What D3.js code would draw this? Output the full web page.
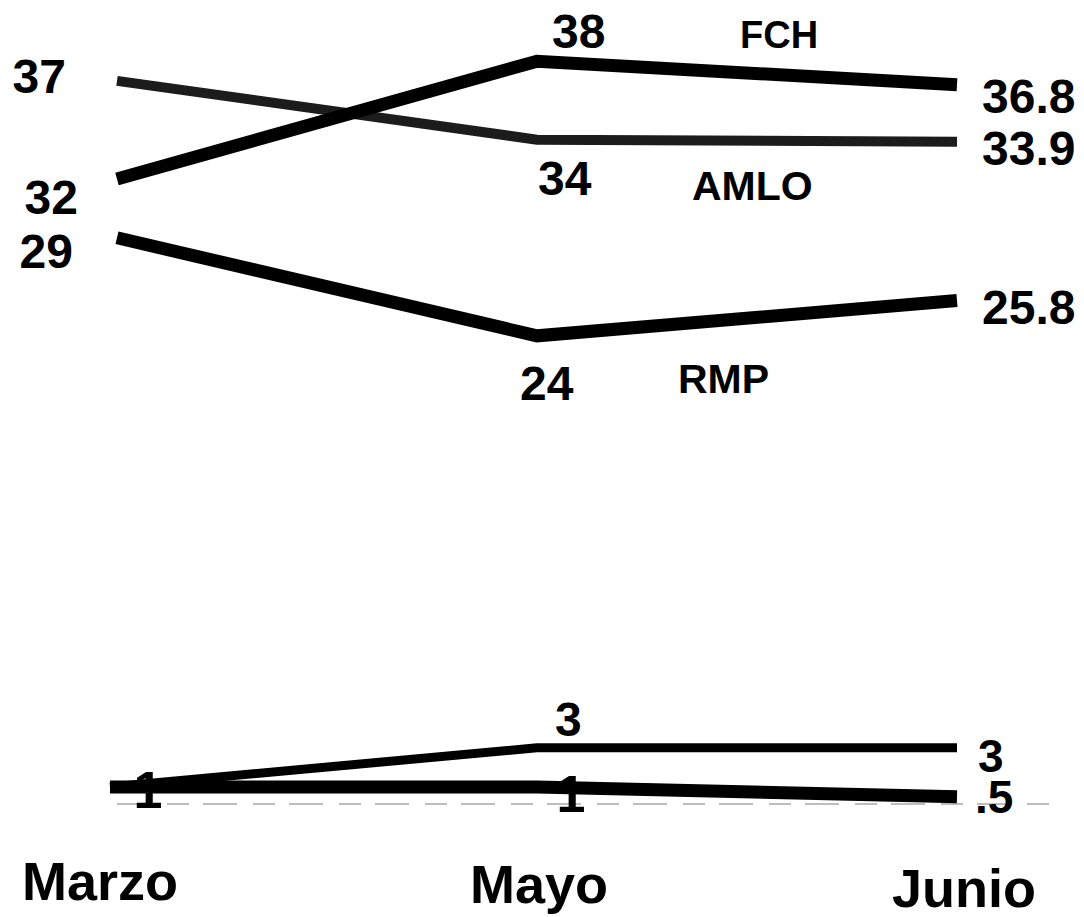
<!DOCTYPE html>
<html>
<head>
<meta charset="utf-8">
<script src="https://cdn.jsdelivr.net/npm/d3@7"></script>
<style>
  html, body { margin: 0; padding: 0; background: #fff; }
  svg text { font-family: "Liberation Sans", Arial, sans-serif; font-weight: bold; fill: #000; }
</style>
</head>
<body>
<svg id="chart" width="1084" height="917"></svg>
<script>
// ---- data ----
const months = ["Marzo", "Mayo", "Junio"];
const fch  = [32, 38, 36.8];
const amlo = [37, 34, 33.9];
const rmp  = [29, 24, 25.8];
const otro = [1, 3, 3];
const otro2 = [1, 1, 0.5];
const fchLabels  = ["32", "38", "36.8"];
const amloLabels = ["37", "34", "33.9"];
const rmpLabels  = ["29", "24", "25.8"];
const otroLabels = ["1", "3", "3"];
const otro2Labels = ["1", "1", ".5"];
const seriesNames = ["FCH", "AMLO", "RMP"];

const svg = d3.select("#chart");

const x = d3.scalePoint().domain(months).range([117, 957]);
const y = d3.scaleLinear().domain([0, 40]).range([806.6, 22]);

// dashed baseline axis
const axis = d3.axisBottom(x).tickSize(0).tickFormat("");
const axG = svg.append("g").attr("transform", "translate(0,804)").call(axis);
axG.select(".domain").remove();
axG.append("line")
  .attr("x1", x("Marzo")).attr("x2", 1060)
  .attr("stroke", "#a8a8a8").attr("stroke-width", 1.5)
  .attr("stroke-dasharray", "34,16,22,14");

function drawSeries(vals, color, width, x0) {
  const pts = vals.map((v, i) => [x(months[i]), y(v)]);
  if (x0 !== undefined) pts[0][0] = x0;
  svg.append("path")
    .attr("d", d3.line()(pts))
    .attr("fill", "none")
    .attr("stroke", color)
    .attr("stroke-width", width)
    .attr("stroke-linejoin", "miter");
}

drawSeries(otro2, "#000", 13, 110);
drawSeries(otro, "#000", 9, 110);
drawSeries(rmp, "#000", 13);
drawSeries(amlo, "#1c1c1c", 10);
drawSeries(fch, "#000", 13);

// labels
function label(txt, xx, yy, size, anchor) {
  svg.append("text").attr("x", xx).attr("y", yy)
    .attr("font-size", size).attr("text-anchor", anchor || "start").text(txt);
}
const xm = x("Marzo"), xy = x("Mayo"), xj = x("Junio");
const ns = 48;
// Marzo values
label(amloLabels[0], xm - 51, y(amlo[0]) + 12, ns, "end");
label(fchLabels[0], xm - 39, y(fch[0]) + 35, ns, "end");
label(rmpLabels[0], xm - 44, y(rmp[0]) + 30, ns, "end");
// Mayo values
label(fchLabels[1], xy + 15, y(fch[1]) - 13, ns);
label(amloLabels[1], xy + 1, y(amlo[1]) + 55, ns);
label(rmpLabels[1], xy - 17, y(rmp[1]) + 64, ns);
label(otroLabels[1], xy + 18, y(otro[1]) - 12, ns);
// Junio values
label(fchLabels[2], xj + 25, y(fch[2]) + 28, ns);
label(amloLabels[2], xj + 25, y(amlo[2]) + 23, ns);
label(rmpLabels[2], xj + 25, y(rmp[2]) + 23, ns);
label(otroLabels[2], xj + 21, y(otro[2]) + 24, 46);
label(otro2Labels[2], xj + 18, y(otro2[2]) + 16, 46);
// "1" markers at baseline
label(otroLabels[0], 148, 808, 52, "middle");
label(otro2Labels[1], 571, 812, 52, "middle");
// series names
label(seriesNames[0], 740, 48, 38);
label(seriesNames[1], 692, 200, 41);
label(seriesNames[2], 678, 393, 41);

// month labels
const monthX = [22, 470, 892];
const monthY = [900, 903, 907];
months.forEach((m, i) => label(m, monthX[i], monthY[i], 54));
</script>
</body>
</html>
